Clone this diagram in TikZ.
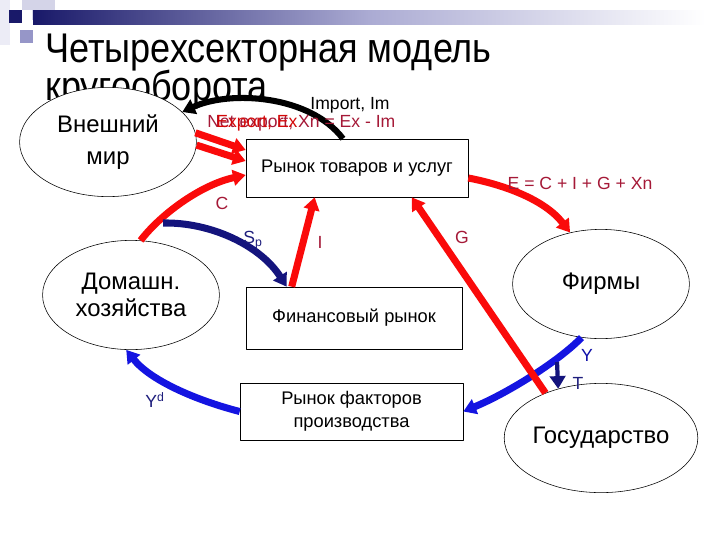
\documentclass[tikz,border=0pt]{standalone}
\usepackage{fontspec}
\setmainfont{Liberation Sans}
\newfontfamily\titlefont[FakeStretch=0.87]{Liberation Sans}
\usetikzlibrary{shapes.geometric,arrows.meta,calc}
\definecolor{hdnavy}{RGB}{25,25,105}
\definecolor{hdmid}{RGB}{150,150,200}
\definecolor{hdlight}{RGB}{212,212,232}
\definecolor{hdpale}{RGB}{236,236,246}
\definecolor{flowred}{RGB}{250,10,10}
\definecolor{flownavy}{RGB}{20,20,125}
\definecolor{flowblue}{RGB}{20,20,225}
\definecolor{labred}{RGB}{165,25,55}
\definecolor{labnavy}{RGB}{30,30,125}
\begin{document}
\begin{tikzpicture}[x=0.025cm,y=-0.025cm,line join=round,>={Triangle[length=9pt,width=11pt]},
	sector/.style={ellipse,draw,thin,fill=white,inner sep=0pt,minimum width=4.42cm,minimum height=2.73cm,align=center,font=\fontsize{17}{19}\selectfont},
	marketbox/.style={draw,thin,fill=white,inner sep=0pt,align=center,font=\fontsize{13}{16}\selectfont},
	redflow/.style={->,draw=flowred,line width=5pt},
	blueflow/.style={->,draw=flowblue,line width=5pt},
	lbred/.style={text=labred,font=\fontsize{12.5}{14}\selectfont},
	lbnavy/.style={text=labnavy,font=\fontsize{12.5}{14}\selectfont}]
	\useasboundingbox[fill=white] (0,0) rectangle (720,540);
	% header
	\fill[hdpale] (0,0) rectangle (10,45);
	\fill[hdlight] (22,0) rectangle (55,10);
	\fill[hdlight] (32,10) rectangle (55,20);
	\shade[left color=hdnavy,right color=white,middle color=hdmid!80] (33,10) rectangle (705,24);
	\fill[hdnavy] (9,10) rectangle (22,23);
	\fill[hdmid] (20,30) rectangle (33,43);
	\node[anchor=base west,inner sep=0pt,font=\titlefont\fontsize{29.5}{30}\selectfont] (title1) at (45,62) {Четырехсекторная модель};
	\node[anchor=base west,inner sep=0pt,font=\titlefont\fontsize{29.5}{30}\selectfont] (title2) at (45,100) {кругооборота};
	% sectors and markets
	\node[sector] (world) at (108,142) {Внешний\\[4pt]мир};
	\node[sector] (hh) at (131,295) {Домашн.\\хозяйства};
	\node[sector] (firms) at (601,284) {Фирмы};
	\node[sector] (gov) at (601,438) {Государство};
	\node[marketbox,minimum width=5.55cm,minimum height=1.45cm] (goods) at (357,168) {Рынок товаров и услуг};
	\node[marketbox,minimum width=5.4cm,minimum height=1.55cm] (finance) at (354,318) {Финансовый рынок};
	\node[marketbox,minimum width=5.575cm,minimum height=1.425cm] (factors) at (351.5,411.5) {Рынок факторов\\производства};
	\coordinate (spfrom) at (163,223);
	\coordinate (tfrom) at (557,362);
	% flows
	\draw[->,line width=4.3pt] ($(goods.north)+(-14,0)$) .. controls (310,95) and (230,90) .. (world.22);
	\draw[redflow] (world.6) -- ($(goods.west)+(0,-18)$);
	\draw[redflow] (world.-2) -- ($(goods.west)+(0,-7)$);
	\draw[redflow] (hh.80) .. controls (160,215) and (200,185) .. ($(goods.west)+(0,7)$);
	\draw[->,draw=flownavy,line width=5pt] (spfrom) .. controls (210,222) and (260,245) .. ($(finance.north west)+(41,0)$);
	\draw[redflow] ($(finance.north west)+(46,0)$) -- ($(goods.south west)+(69,0)$);
	\draw[redflow] (goods.east) ++(0,10) .. controls (505,185) and (545,200) .. (firms.121);
	\draw[blueflow] (firms.-110) .. controls (560,360) and (510,392) .. (factors.east);
	\draw[->,draw=flownavy,line width=3pt] (tfrom) -- (gov.131);
	\draw[redflow] (gov.141.5) -- ($(goods.south west)+(166,0)$);
	\draw[blueflow] (factors.west) .. controls (195,400) and (150,380) .. (hh.-95);
	% labels
	\node[font=\fontsize{12.5}{14}\selectfont] (limport) at (350,105) {Import, Im};
	\node[lbred,anchor=base west,inner sep=0pt] (lnet) at (207,127) {Net export, Xn = Ex - Im};
	\node[anchor=base west,inner sep=0pt,text=flowred!85!black,font=\fontsize{12.5}{14}\selectfont] (lexport) at (216,127) {Export, Ex};
	\node[lbred] (lc) at (222,203) {C};
	\node[lbnavy] (lsp) at (253,240) {S\textsubscript{p}};
	\node[lbred] (li) at (320,242) {I};
	\node[lbred] (lg) at (462,237) {G};
	\node[lbred] (le) at (580,183) {E = C + I + G + Xn};
	\node[lbnavy,text=flowblue!75!black] (ly) at (587,355) {Y};
	\node[lbnavy] (lt) at (578,383) {T};
	\node[lbnavy] (lyd) at (155,400) {Y\textsuperscript{d}};
\end{tikzpicture}
\end{document}
